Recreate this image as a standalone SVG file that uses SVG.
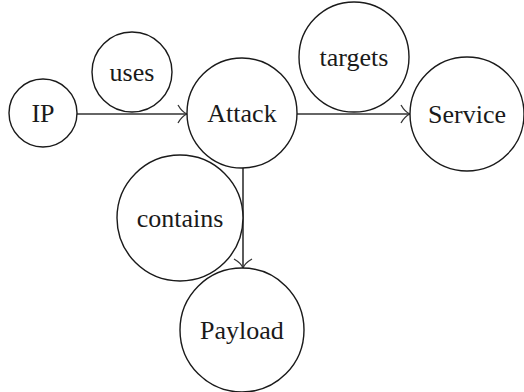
<svg xmlns="http://www.w3.org/2000/svg" width="524" height="392" viewBox="0 0 524 392">
<style>
.n{fill:#fff;stroke:#1a1a1a;stroke-width:1.4}
.t{font-family:"Liberation Serif","Times New Roman",serif;font-size:26px;fill:#1a1a1a;text-anchor:middle}
.e{stroke:#333;stroke-width:1.6;fill:none}
.h{stroke:#333;stroke-width:1.3;fill:none}
</style>
<rect width="524" height="392" fill="#fff"/>
<g id="connectors">
<line class="e" x1="77" y1="114" x2="187" y2="114"/>
<path class="h" d="M178,105 Q182,112 187,114 Q182,116 178,123"/>
<line class="e" x1="297" y1="114" x2="410" y2="114"/>
<path class="h" d="M401,105 Q405,112 410,114 Q405,116 401,123"/>
<line class="e" x1="243" y1="168" x2="243" y2="268"/>
<path class="h" d="M234,259 Q241,263 243,268 Q245,263 252,259"/>
</g>
<g id="IP"><circle class="n" cx="43" cy="113" r="34"/><text class="t" x="43" y="122">IP</text></g>
<g id="uses"><circle class="n" cx="132" cy="72" r="40"/><text class="t" x="132" y="81">uses</text></g>
<g id="Attack"><circle class="n" cx="242" cy="113" r="55"/><text class="t" x="242" y="122">Attack</text></g>
<g id="targets"><circle class="n" cx="354" cy="57" r="55"/><text class="t" x="354" y="66">targets</text></g>
<g id="Service"><circle class="n" cx="467" cy="114" r="57"/><text class="t" x="467" y="123">Service</text></g>
<g id="contains"><circle class="n" cx="180" cy="218" r="63"/><text class="t" x="180" y="227">contains</text></g>
<g id="Payload"><circle class="n" cx="242" cy="330" r="62"/><text class="t" x="242" y="339">Payload</text></g>
</svg>
